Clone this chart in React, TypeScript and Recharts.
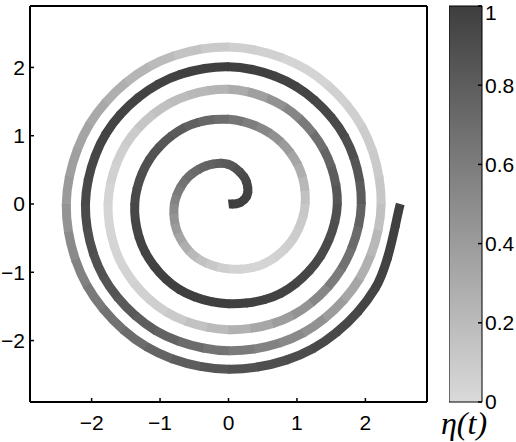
import React from 'react';
import { LineChart, Line, XAxis, YAxis, BarChart, Bar } from 'recharts';

// Points along the spiral (x, y in axis units)
const spiralX = [
  0, 0.17, 0.28, 0.23, 0, -0.32, -0.62, -0.79, -0.74, -0.46, 0, 0.51, 0.93,
  1.12, 1.01, 0.6, 0, -0.64, -1.15, -1.37, -1.22, -0.72, 0, 0.76, 1.34,
  1.59, 1.39, 0.82, 0, -0.85, -1.5, -1.76, -1.55, -0.91, 0, 0.94, 1.65,
  1.94, 1.7, 0.99, 0, -1.02, -1.79, -2.09, -1.83, -1.07, 0, 1.09, 1.91,
  2.23, 1.95, 1.14, 0, -1.16, -2.03, -2.37, -2.07, -1.2, 0, 1.23, 2.14,
  2.51,
];
const spiralY = [
  0, 0.02, 0.16, 0.39, 0.58, 0.56, 0.36, 0, -0.43, -0.79, -0.95, -0.88, -0.53,
  0, 0.58, 1.04, 1.24, 1.12, 0.66, 0, -0.7, -1.25, -1.46, -1.31, -0.77,
  0, 0.8, 1.42, 1.68, 1.48, 0.87, 0, -0.9, -1.58, -1.84, -1.63, -0.95,
  0, 0.98, 1.72, 2.01, 1.76, 1.03, 0, -1.06, -1.85, -2.15, -1.89, -1.1,
  0, 1.13, 1.97, 2.3, 2.01, 1.17, 0, -1.19, -2.09, -2.42, -2.12, -1.24,
  0,
];
// eta(t) at each of those points
const spiralEta = [
  1.0, 0.99, 0.97, 0.94, 0.83, 0.76, 0.69, 0.53, 0.38, 0.18, 0.05, 0.03, 0.08,
  0.13, 0.31, 0.5, 0.68, 0.8, 0.88, 0.94, 0.97, 1.0, 0.99, 0.97, 0.94,
  0.87, 0.73, 0.5, 0.26, 0.18, 0.08, 0.03, 0.04, 0.08, 0.23, 0.42, 0.65,
  0.79, 0.92, 0.97, 1.0, 0.97, 0.97, 0.93, 0.87, 0.79, 0.63, 0.5, 0.3,
  0.13, 0.08, 0.03, 0.08, 0.22, 0.33, 0.43, 0.6, 0.73, 0.87, 0.92, 0.97,
  1.0,
];

const axisTicks = [-2, -1, 0, 1, 2];
const axisDomain = [-2.9, 2.9];
const colorbarTicks = [0, 0.2, 0.4, 0.6, 0.8, 1];
const colorbarLabel = 'η(t)';

const grayFor = (eta: number) => {
  const g = Math.round(218 - 156 * eta);
  return `rgb(${g},${g},${g})`;
};

const fmt = (v: number) => (v < 0 ? '\u2212' + Math.abs(v) : String(v));

// Curve factory: draws the part [a, b] of the Catmull-Rom piece between the
// 2nd and 3rd of the 4 points it receives (already scaled by the axes).
const makePiece = (a: number, b: number, extend: boolean): any => (context: any) => {
  let pts: number[][] = [];
  return {
    areaStart() {},
    areaEnd() {},
    lineStart() {
      pts = [];
    },
    point(x: number, y: number) {
      pts.push([+x, +y]);
    },
    lineEnd() {
      if (pts.length < 4) return;
      const [p0, p1, p2, p3] = pts;
      const P = [
        p1,
        [p1[0] + (p2[0] - p0[0]) / 6, p1[1] + (p2[1] - p0[1]) / 6],
        [p2[0] - (p3[0] - p1[0]) / 6, p2[1] - (p3[1] - p1[1]) / 6],
        p2,
      ];
      const B = (t: number) => {
        const u = 1 - t;
        return [0, 1].map(
          (k) => u * u * u * P[0][k] + 3 * u * u * t * P[1][k] + 3 * u * t * t * P[2][k] + t * t * t * P[3][k]
        );
      };
      const D = (t: number) => {
        const u = 1 - t;
        return [0, 1].map(
          (k) =>
            3 * (u * u * (P[1][k] - P[0][k]) + 2 * u * t * (P[2][k] - P[1][k]) + t * t * (P[3][k] - P[2][k]))
        );
      };
      const q0 = B(a);
      const q3 = B(b);
      const da = D(a);
      const db = D(b);
      const h = (b - a) / 3;
      context.moveTo(q0[0], q0[1]);
      context.bezierCurveTo(
        q0[0] + h * da[0],
        q0[1] + h * da[1],
        q3[0] - h * db[0],
        q3[1] - h * db[1],
        q3[0],
        q3[1]
      );
      if (extend) {
        const len = Math.hypot(db[0], db[1]);
        if (len > 1e-6) context.lineTo(q3[0] + (db[0] / len) * 1.5, q3[1] + (db[1] / len) * 1.5);
      }
    },
  };
};

const SUB = 3;
const last = spiralX.length - 1;
const pt = (i: number) => ({ x: spiralX[i], y: spiralY[i] });
const pieces: { data: any[]; color: string; type: any }[] = [];
for (let i = 0; i < last; i++) {
  const data = [pt(Math.max(i - 1, 0)), pt(i), pt(i + 1), pt(Math.min(i + 2, last))];
  for (let s = 0; s < SUB; s++) {
    const a = s / SUB;
    const b = (s + 1) / SUB;
    const m = (a + b) / 2;
    const eta = spiralEta[i] + (spiralEta[i + 1] - spiralEta[i]) * m;
    const isFinal = i === last - 1 && s === SUB - 1;
    pieces.push({ data, color: grayFor(eta), type: makePiece(a, b, !isFinal) });
  }
}

const tickFont = { fill: '#000', fontSize: 21, fontFamily: 'Liberation Sans' };
const axisLineStyle = { stroke: '#000', strokeWidth: 2 };
const tickLineStyle = { stroke: '#000', strokeWidth: 1.5 };

const colorbarData = [{ name: 'eta', v: 1 }];

export default function App() {
  return (
    <div style={{ position: 'absolute', left: 0, top: 0, width: 516, height: 442, background: '#fff' }}>
      <div style={{ position: 'absolute', left: 0, top: 0 }}>
        <LineChart width={516} height={442} margin={{ top: 0, right: 0, left: 0, bottom: 0 }}>
          <XAxis
            dataKey="x"
            type="number"
            domain={axisDomain}
            ticks={axisTicks}
            allowDataOverflow
            height={40}
            tickSize={-4}
            tickMargin={17}
            tick={tickFont}
            tickFormatter={fmt}
            axisLine={axisLineStyle}
            tickLine={tickLineStyle}
          />
          <XAxis
            xAxisId="top"
            orientation="top"
            dataKey="x"
            type="number"
            domain={axisDomain}
            ticks={axisTicks}
            allowDataOverflow
            height={6}
            tickSize={-4}
            tick={false}
            axisLine={axisLineStyle}
            tickLine={tickLineStyle}
          />
          <YAxis
            type="number"
            domain={axisDomain}
            ticks={axisTicks}
            allowDataOverflow
            width={30}
            tickSize={-4}
            tickMargin={9}
            tick={tickFont}
            tickFormatter={fmt}
            axisLine={axisLineStyle}
            tickLine={tickLineStyle}
          />
          <YAxis
            yAxisId="right"
            orientation="right"
            type="number"
            domain={axisDomain}
            ticks={axisTicks}
            allowDataOverflow
            width={89}
            tickSize={-4}
            tick={false}
            axisLine={axisLineStyle}
            tickLine={tickLineStyle}
          />
          {pieces.map((p, i) => (
            <Line
              key={i}
              data={p.data}
              dataKey="y"
              type={p.type}
              stroke={p.color}
              strokeWidth={9}
              dot={false}
              activeDot={false}
              legendType="none"
              isAnimationActive={false}
            />
          ))}
        </LineChart>
      </div>
      <div style={{ position: 'absolute', left: 449, top: 0 }}>
        <BarChart
          width={67}
          height={442}
          data={colorbarData}
          barCategoryGap={0}
          margin={{ top: 6, right: 0, left: 0, bottom: 40 }}
        >
          <defs>
            <linearGradient id="cbar" x1="0" y1="0" x2="0" y2="1">
              <stop offset="0%" stopColor={grayFor(1)} />
              <stop offset="100%" stopColor={grayFor(0)} />
            </linearGradient>
          </defs>
          <XAxis dataKey="name" hide />
          <Bar dataKey="v" fill="url(#cbar)" stroke="#000" strokeWidth={1} isAnimationActive={false} />
          <YAxis
            yAxisId={0}
            orientation="right"
            type="number"
            domain={[0, 1]}
            ticks={colorbarTicks}
            width={34}
            tickSize={-4}
            tickMargin={7}
            tick={{ ...tickFont, textAnchor: 'start' }}
            axisLine={false}
            tickLine={tickLineStyle}
          />
          <YAxis
            yAxisId="cbleft"
            orientation="left"
            type="number"
            domain={[0, 1]}
            ticks={colorbarTicks}
            width={0}
            tickSize={-4}
            tick={false}
            axisLine={false}
            tickLine={tickLineStyle}
          />
        </BarChart>
      </div>
      <div
        style={{
          position: 'absolute',
          left: 434,
          top: 404,
          width: 60,
          textAlign: 'center',
          fontFamily: 'Liberation Serif',
          fontStyle: 'italic',
          fontSize: 32,
          lineHeight: '38px',
          color: '#000',
        }}
      >
        {colorbarLabel}
      </div>
    </div>
  );
}
